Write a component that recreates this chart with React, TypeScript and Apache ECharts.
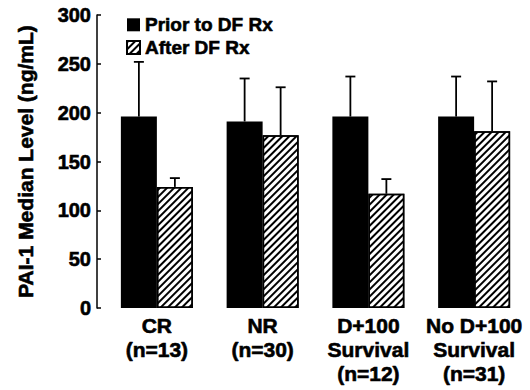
import React, { useEffect, useRef } from "react";
import * as echarts from "echarts";

const categories = ["CR\n(n=13)", "NR\n(n=30)", "D+100\nSurvival\n(n=12)", "No D+100\nSurvival\n(n=31)"];
const seriesNames = ["Prior to DF Rx", "After DF Rx"];
const priorValues = [196, 191, 196, 196];
const priorUpper = [252, 235, 237, 237];
const afterValues = [124, 177, 117, 181];
const afterUpper = [133, 226, 132, 232];
const yTicks = { min: 0, max: 300, interval: 50 };

const FONT = "'Liberation Sans', Arial, Helvetica, sans-serif";
const BAR_W = 36;
const heavy = { textBorderColor: "#000", textBorderWidth: 0.6 };

function errorSeries(name: string, values: number[], upper: number[], offset: number) {
  return {
    type: "custom",
    name,
    z: 5,
    data: values.map((v, i) => [i, v, upper[i]]),
    renderItem: (params: any, api: any) => {
      const base = api.coord([api.value(0), api.value(1)]);
      const top = api.coord([api.value(0), api.value(2)]);
      const x = base[0] + offset;
      const style = { stroke: "#000", lineWidth: 1.8 };
      return {
        type: "group",
        children: [
          { type: "line", shape: { x1: x, y1: base[1], x2: x, y2: top[1] }, style },
          { type: "line", shape: { x1: x - 5, y1: top[1], x2: x + 5, y2: top[1] }, style },
        ],
      };
    },
  };
}

export default function App() {
  const ref = useRef<HTMLDivElement>(null);
  useEffect(() => {
    if (!ref.current) return;
    const chart = echarts.init(ref.current, null, { renderer: "svg" });
    chart.setOption({
      animation: false,
      backgroundColor: "#fff",
      textStyle: { fontFamily: FONT, color: "#000" },
      grid: { left: 104, right: 3, top: 15, bottom: 82, containLabel: false },
      legend: {
        data: seriesNames,
        orient: "vertical",
        left: 121,
        top: 10,
        icon: "rect",
        itemWidth: 13,
        itemHeight: 13,
        itemGap: 3,
        textStyle: { fontSize: 19, fontWeight: "bold", color: "#000", fontFamily: FONT, ...heavy },
      },
      xAxis: {
        type: "category",
        data: categories,
        axisLine: { show: false },
        axisTick: { show: false },
        axisLabel: {
          fontSize: 21,
          fontWeight: "bold",
          color: "#000",
          fontFamily: FONT,
          lineHeight: 24,
          margin: 5,
          interval: 0,
          ...heavy,
        },
      },
      yAxis: {
        type: "value",
        min: yTicks.min,
        max: yTicks.max,
        interval: yTicks.interval,
        offset: 7,
        name: "PAI-1 Median Level (ng/mL)",
        nameLocation: "middle",
        nameGap: 61,
        nameTextStyle: { fontSize: 21, fontWeight: "bold", color: "#000", fontFamily: FONT, ...heavy },
        axisLine: { show: true, lineStyle: { color: "#000", width: 1.5 } },
        axisTick: { show: true, inside: true, length: 4, lineStyle: { color: "#000", width: 1.5 } },
        axisLabel: { fontSize: 20, fontWeight: "bold", color: "#000", fontFamily: FONT, margin: 6, ...heavy },
        splitLine: { show: false },
      },
      series: [
        {
          type: "bar",
          name: seriesNames[0],
          data: priorValues,
          barWidth: BAR_W,
          barGap: "0%",
          itemStyle: { color: "#000" },
        },
        {
          type: "bar",
          name: seriesNames[1],
          data: afterValues,
          barWidth: BAR_W,
          barGap: "0%",
          itemStyle: {
            color: "#fff",
            borderColor: "#000",
            borderWidth: 1.5,
            decal: {
              symbol: "rect",
              symbolSize: 1,
              color: "#000",
              backgroundColor: "#fff",
              dashArrayX: [1, 0],
              dashArrayY: [1.2, 2.6],
              rotation: -Math.PI / 4,
            },
          },
        },
        errorSeries("err-prior", priorValues, priorUpper, -BAR_W / 2),
        errorSeries("err-after", afterValues, afterUpper, BAR_W / 2),
      ],
    });
    return () => chart.dispose();
  }, []);
  return <div ref={ref} style={{ position: "fixed", left: 0, top: 0, width: 530, height: 390 }} />;
}
